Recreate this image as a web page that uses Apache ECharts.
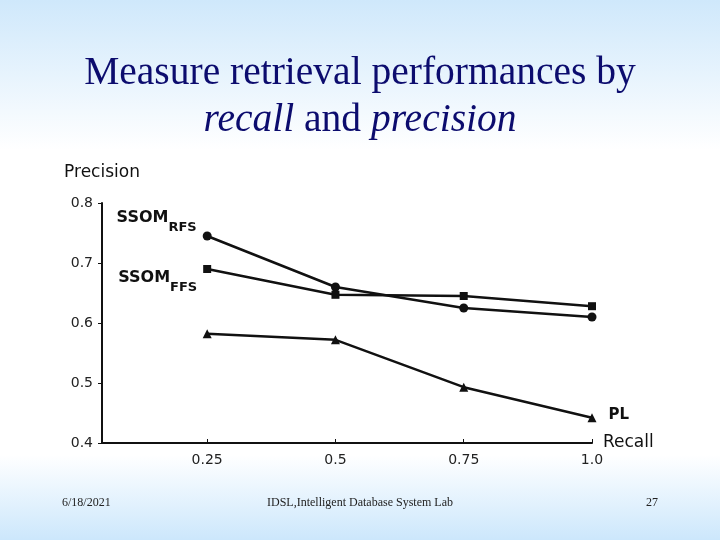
<!DOCTYPE html>
<html>
<head>
<meta charset="utf-8">
<script src="https://cdn.jsdelivr.net/npm/echarts@6/dist/echarts.min.js"></script>
<style>
  html, body { margin: 0; padding: 0; }
  body {
    width: 720px; height: 540px; overflow: hidden;
    background: linear-gradient(to bottom, #cfe8fb 0px, #ffffff 150px, #ffffff 455px, #cce7fc 540px);
  }
  #chart { width: 720px; height: 540px; }
</style>
</head>
<body>
<div id="chart"></div>
<script>
// ---- data ----
const recall = [0.25, 0.5, 0.75, 1.0];
const recallTickLabels = ['0.25', '0.5', '0.75', '1.0'];
const precisionTickLabels = ['0.4', '0.5', '0.6', '0.7', '0.8'];
const ssomRFS = [0.745, 0.66, 0.625, 0.61];
const ssomFFS = [0.69, 0.647, 0.645, 0.628];
const pl = [0.582, 0.572, 0.493, 0.442];

const titleLine1 = 'Measure retrieval performances by';
const footerDate = '6/18/2021';
const footerLab = 'IDSL,Intelligent Database System Lab';
const footerPage = '27';

function pairs(ys) { return recall.map((x, i) => [x, ys[i]]); }

const subRich = {
  s: { fontSize: 1, lineHeight: 24 },
  a: { fontFamily: 'DejaVu Sans', fontSize: 16, fontWeight: 'bold', color: '#111', lineHeight: 16, verticalAlign: 'top' },
  b: { fontFamily: 'DejaVu Sans', fontSize: 13, fontWeight: 'bold', color: '#111', lineHeight: 13, verticalAlign: 'bottom' }
};

function withLabel(ys, idx, label) {
  return pairs(ys).map((p, i) => i === idx ? { value: p, label: Object.assign({ show: true }, label) } : p);
}

const chart = echarts.init(document.getElementById('chart'), null, { renderer: 'canvas' });
const lineStyle = { color: '#111', width: 2.5 };
const itemStyle = { color: '#111' };

chart.setOption({
  backgroundColor: 'transparent',
  animation: false,
  title: {
    text: titleLine1 + '\n{i|recall} and {i|precision}',
    left: 'center',
    top: 45,
    textStyle: {
      fontFamily: 'Liberation Serif', fontSize: 39.5, fontWeight: 'normal', color: '#0c0c6e', lineHeight: 47,
      rich: { i: { fontFamily: 'Liberation Serif', fontSize: 39.5, fontStyle: 'italic', color: '#0c0c6e', lineHeight: 47 } }
    }
  },
  grid: { left: 102, right: 128, top: 203, bottom: 97, containLabel: false, outerBoundsMode: 'none' },
  xAxis: {
    type: 'value', min: 0.045, max: 1.0,
    name: 'Recall', nameLocation: 'end', nameGap: 11,
    nameTextStyle: { fontFamily: 'DejaVu Sans', fontSize: 17, color: '#111', align: 'left' },
    axisLine: { lineStyle: { color: '#111', width: 2 } },
    axisTick: { show: true, inside: true, length: 4, customValues: recall, lineStyle: { color: '#111' } },
    axisLabel: {
      customValues: recall,
      formatter: v => recallTickLabels[recall.findIndex(r => Math.abs(r - v) < 1e-6)] || '',
      fontFamily: 'DejaVu Sans', fontSize: 14, color: '#222', margin: 10
    },
    splitLine: { show: false }
  },
  yAxis: {
    type: 'value', min: 0.4, max: 0.8, interval: 0.1,
    name: 'Precision', nameLocation: 'end', nameGap: 22,
    nameTextStyle: { fontFamily: 'DejaVu Sans', fontSize: 17, color: '#111', align: 'center' },
    axisLine: { show: true, lineStyle: { color: '#111', width: 2 } },
    axisTick: { show: true, length: 4, lineStyle: { color: '#111' } },
    axisLabel: {
      formatter: v => precisionTickLabels[Math.round((v - 0.4) * 10)] || '',
      fontFamily: 'DejaVu Sans', fontSize: 14, color: '#222', margin: 9
    },
    splitLine: { show: false }
  },
  series: [
    {
      name: 'SSOM RFS', type: 'line', symbol: 'circle', symbolSize: 9,
      lineStyle, itemStyle,
      data: withLabel(ssomRFS, 0, { position: 'left', distance: 6, offset: [0, -14], formatter: '{s| }{a|SSOM}{b|RFS}', rich: subRich })
    },
    {
      name: 'SSOM FFS', type: 'line', symbol: 'rect', symbolSize: 8,
      lineStyle, itemStyle,
      data: withLabel(ssomFFS, 0, { position: 'left', distance: 6, offset: [0, 13], formatter: '{s| }{a|SSOM}{b|FFS}', rich: subRich })
    },
    {
      name: 'PL', type: 'line', symbol: 'triangle', symbolSize: 9,
      lineStyle, itemStyle,
      data: withLabel(pl, 3, { position: 'right', distance: 12, offset: [0, -3], formatter: 'PL', fontFamily: 'DejaVu Sans', fontSize: 15, fontWeight: 'bold', color: '#111' })
    }
  ],
  graphic: [
    { type: 'text', left: 62, top: 497, style: { text: footerDate, font: '12px "Liberation Serif"', fill: '#222' } },
    { type: 'text', left: 'center', top: 497, style: { text: footerLab, font: '12px "Liberation Serif"', fill: '#222' } },
    { type: 'text', left: 646, top: 497, style: { text: footerPage, font: '12px "Liberation Serif"', fill: '#222' } }
  ]
});
</script>
</body>
</html>
